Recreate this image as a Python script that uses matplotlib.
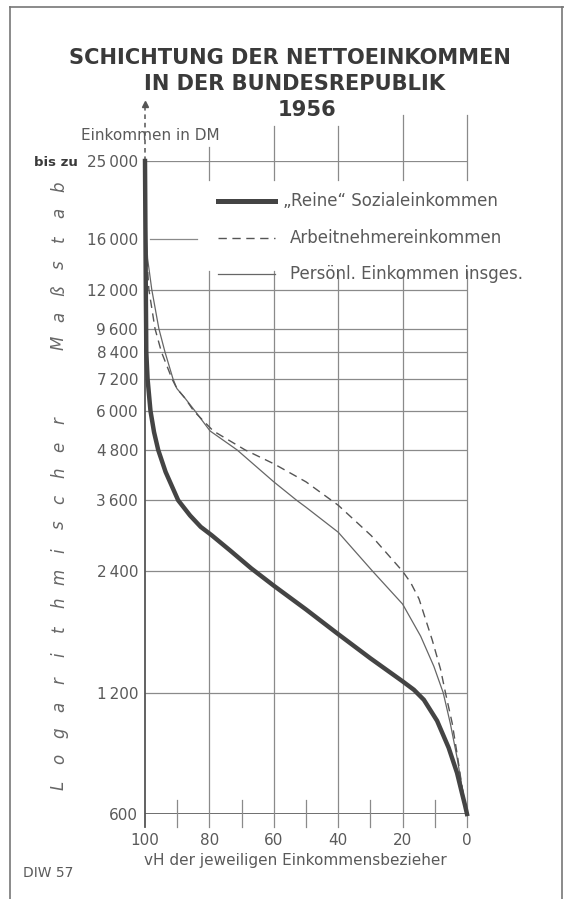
import numpy as np
import matplotlib.pyplot as plt

# --- data (x: vH der Einkommensbezieher, y: DM) ---
sozial_x = [100, 99.85, 99.75, 99.65, 99.6, 99.2, 98.3, 97.2, 95.9, 93.6, 89.7, 86.0,
            82.7, 79.3, 73.5, 67.0, 60, 50, 40, 30, 20, 16.5, 13.4, 9.3, 5.7, 3.1,
            1.5, 0.6, 0]
sozial_y = [25000, 16000, 12000, 9600, 8400, 7200, 6000, 5317, 4800, 4232, 3600, 3300,
            3093, 2949, 2700, 2440, 2210, 1930, 1676, 1460, 1280, 1220, 1152, 1022, 876, 759,
            673, 630, 600]

arbeit_x = [100, 99.7, 99.4, 98.8, 96.9, 94.9, 91.6, 90.1, 87.5, 84.9, 78.8, 68.9, 60,
            50, 40, 29.7, 20, 17.5, 14.9, 10.8, 8.2, 6.7, 4.6, 2.9, 1.5, 0]
arbeit_y = [25000, 16000, 14330, 12000, 9600, 8400, 7200, 6816, 6440, 6000, 5350, 4800, 4435,
            4000, 3500, 2940, 2400, 2250, 2050, 1621, 1370, 1200, 1008, 829, 697, 600]

gesamt_x = [100, 99.5, 99.2, 97.9, 95.7, 93.8, 91.3, 90.1, 87.5, 84.5, 79.8, 71.4, 60,
            52.9, 50, 40, 29.3, 20, 14.4, 10.3, 7.4, 5.2, 3.1, 1.5, 0]
gesamt_y = [25000, 16000, 14330, 12000, 9600, 8400, 7200, 6816, 6440, 6000, 5350, 4800, 4000,
            3600, 3460, 3000, 2400, 1990, 1657, 1395, 1200, 1008, 829, 697, 600]

y_ticks = [600, 1200, 2400, 3600, 4800, 6000, 7200, 8400, 9600, 12000, 16000, 25000]
y_labels = ['600', '1\u2009200', '2\u2009400', '3\u2009600', '4\u2009800', '6\u2009000',
            '7\u2009200', '8\u2009400', '9\u2009600', '12\u2009000', '16\u2009000', '25\u2009000']
x_ticks = [100, 80, 60, 40, 20, 0]
x_minor = [90, 70, 50, 30, 10]

series_names = ['\u201eReine\u201c Sozialeinkommen', 'Arbeitnehmereinkommen',
                'Pers\u00f6nl. Einkommen insges.']

W, H = 564, 899
INK = '#3a3a3a'
GREY = '#5a5a5a'
GRID = '#8a8a8a'


def px(x, y):
    """pixel position -> figure fraction"""
    return x / W, 1 - y / H


def frac(v):
    """DM value -> axes y fraction on the log scale"""
    return np.log(v / y_ticks[0]) / np.log(y_ticks[-1] / y_ticks[0])


fig = plt.figure(figsize=(W / 100, H / 100), dpi=100)
ax = fig.add_axes([145 / W, 1 - 814 / H, 322 / W, 653 / H])
ax.set_yscale('log')
ax.set_xlim(100, 0)
ax.set_ylim(600, 25000)
for s in ax.spines.values():
    s.set_visible(False)

ax.set_yticks(y_ticks, labels=y_labels)
ax.yaxis.set_minor_locator(plt.NullLocator())
ax.set_xticks(x_ticks, labels=[str(v) for v in x_ticks])
ax.tick_params(axis='y', length=0, pad=5, labelsize=11, labelcolor=GREY)
ax.tick_params(axis='x', length=0, pad=14, labelsize=11, labelcolor=GREY)

xt = ax.get_xaxis_transform()
below = -0.02

# horizontal grid
for v in y_ticks:
    if v == 16000:
        ax.axhline(v, xmin=0.016, xmax=0.161, color=GRID, lw=0.9)
    elif v == 600:
        ax.axhline(v, color='#555555', lw=1.2)
    else:
        ax.axhline(v, color=GRID, lw=0.9)

# vertical grid, interrupted where the legend sits
tops = {80: 1.022, 60: 1.054, 40: 1.054, 20: 1.070, 0: 1.070}
for v in x_ticks[1:]:
    ax.plot([v, v], [below, frac(13300)], transform=xt, color=GRID, lw=0.9, clip_on=False)
    ax.plot([v, v], [frac(22400), tops[v]], transform=xt, color=GRID, lw=0.9, clip_on=False)
for v in x_minor:
    ax.plot([v, v], [below, 0.021], transform=xt, color=GRID, lw=0.9, clip_on=False)

# left axis with dashed arrow on top
ax.plot([100, 100], [below, 1.0], transform=xt, color='#555555', lw=1.3, clip_on=False)
ax.plot([100, 100], [1.0, 1.085], transform=xt, color='#555555', lw=1.1, ls=(0, (3, 2.5)),
        clip_on=False)
ax.plot([100], [1.088], transform=xt, marker='^', ms=4.5, color='#555555', clip_on=False)

# curves
ax.plot(gesamt_x, gesamt_y, color='#666666', lw=0.9, clip_on=False)
ax.plot(arbeit_x, arbeit_y, color='#555555', lw=1.0, ls=(0, (6, 4)), clip_on=False)
ax.plot(sozial_x, sozial_y, color='#444444', lw=3.2, solid_joinstyle='round', clip_on=False)

# legend drawn by hand like the original
styles = [dict(color='#444444', lw=3.6), dict(color='#555555', lw=1.0, ls=(0, (6, 4))),
          dict(color='#666666', lw=0.9)]
text_x = [283, 290, 290]
for i, (name, st) in enumerate(zip(series_names, styles)):
    yy = [201, 238, 274][i]
    x0, y0 = px(218, yy)
    x1, _ = px(275, yy)
    fig.add_artist(plt.Line2D([x0, x1], [y0, y0], transform=fig.transFigure, **st))
    fig.text(*px(text_x[i], yy), name, fontsize=12, color=GREY, va='center', ha='left')

# titles and labels
fig.text(*px(290, 58), 'SCHICHTUNG DER NETTOEINKOMMEN', fontsize=15.1, fontweight='bold',
         color=INK, ha='center', va='center')
fig.text(*px(295, 84), 'IN DER BUNDESREPUBLIK', fontsize=15.1, fontweight='bold',
         color=INK, ha='center', va='center')
fig.text(*px(307, 110), '1956', fontsize=15.1, fontweight='bold',
         color=INK, ha='center', va='center')
fig.text(*px(81, 135), 'Einkommen in DM', fontsize=11, color=GREY, ha='left', va='center')
fig.text(*px(34, 162), 'bis zu', fontsize=9.5, fontweight='bold', color=INK,
         ha='left', va='center')
fig.text(*px(295, 860), 'vH der jeweiligen Einkommensbezieher', fontsize=11, color=GREY,
         ha='center', va='center')
fig.text(*px(23, 873), 'DIW 57', fontsize=10, color=GREY, ha='left', va='center')

# spaced, rotated axis caption
word = 'Logarithmischer Maßstab'
for slot, ch in enumerate(word):
    if ch != ' ':
        fig.text(*px(59, 785 - 26 * (slot + (1 if slot > 15 else 0))), ch, fontsize=12,
                 style='italic', color='#666666', rotation=90, ha='center', va='center')

# page border of the scan
for xs, ys in [([10, 10], [7, 899]), ([10, 564], [7, 7]), ([562, 562], [7, 899])]:
    p0 = px(xs[0], ys[0])
    p1 = px(xs[1], ys[1])
    fig.add_artist(plt.Line2D([p0[0], p1[0]], [p0[1], p1[1]], transform=fig.transFigure,
                              color='#777777', lw=1.2))

fig.savefig('out.png', dpi=100)
